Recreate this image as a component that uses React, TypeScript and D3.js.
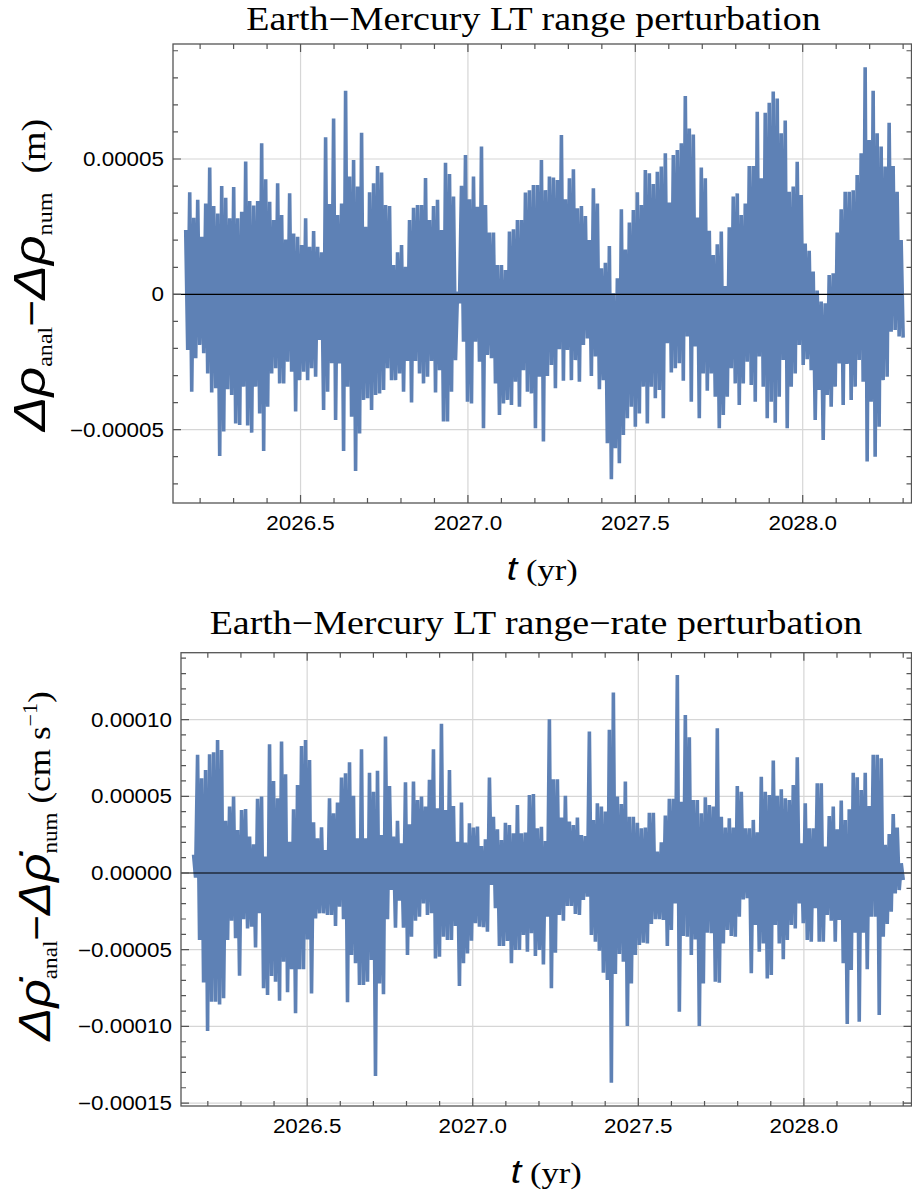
import React from "react";
import * as d3 from "d3";

// Sampling span of the residual series (years)
const T_FIRST = 2026.157;
const T_LAST = 2028.3;
const X_DOMAIN: [number, number] = [2026.119, 2028.325];

// Earth–Mercury LT range residual: successive positive / negative excursions (1e-5 m)
const rangeHigh = [
  2.38, 3.77, 2.83, 3.49, 2.13, 3.36, 4.69, 3.26, 2.99, 4.0,
  3.57, 2.81, 3.97, 2.81, 3.05, 4.91, 3.45, 3.28, 3.45, 5.58,
  4.25, 3.42, 2.75, 4.1, 2.93, 2.03, 3.73, 2.25, 2.13, 1.82,
  2.81, 1.76, 2.34, 1.76, 1.55, 5.8, 3.34, 6.5, 2.93, 3.36,
  7.52, 4.35, 4.96, 3.98, 5.97, 2.5, 3.77, 4.1, 4.74, 4.5,
  3.3, 3.26, 1.08, 1.55, 1.82, 1.02, 2.75, 3.2, 3.3, 3.3,
  4.3, 2.75, 3.26, 3.49, 2.38, 4.86, 4.45, 3.61, 0.1, 4.01,
  5.15, 3.51, 4.35, 3.24, 5.46, 3.3, 2.28, 2.28, 1.08, 1.08,
  0.9, 2.32, 2.4, 2.75, 2.75, 3.76, 3.85, 4.04, 4.04,
  4.96, 3.85, 4.35, 4.32, 4.22, 5.89, 3.51, 4.29, 4.62, 3.18,
  3.26, 2.89, 2.01, 3.92, 3.36, 0.96, 1.17, 1.79, 0.04, 0.59,
  3.14, 1.66, 2.65, 3.12, 3.77, 3.3, 4.59, 4.47, 4.08, 4.53,
  4.72, 5.21, 3.39, 5.15, 5.33, 5.58, 7.33, 6.13, 5.91, 2.84,
  4.69, 4.29, 2.35, 1.45, 1.85, 2.32, 0.31, 2.48, 3.61, 3.73,
  2.93, 3.36, 4.74, 4.74, 6.75, 4.29, 6.71, 7.08, 7.49, 7.24,
  5.95, 6.42, 3.79, 3.98, 4.9, 3.67, 1.88, 1.61, 0.84, 0.14,
  -0.27, -0.33, 0.71, 0.78, 2.28, 3.14, 3.79, 3.79, 3.85, 4.41,
  5.21, 8.39, 5.7, 7.52, 5.95, 5.46, 4.72, 6.34, 4.74, 3.79,
  2.01,
];
const rangeLow = [
  -2.06, -3.6, -2.36, -1.87, -2.18, -2.92, -3.63, -3.47, -5.97, -5.07,
  -3.51, -3.72, -4.77, -4.83, -3.41, -4.85, -5.11, -3.41, -4.4, -5.79,
  -4.15, -2.92, -2.73, -3.29, -3.29, -2.49, -2.86, -4.33, -3.17, -2.86,
  -3.17, -2.73, -3.04, -1.69, -4.27, -3.6, -2.55, -4.64, -2.55, -5.79,
  -3.41, -4.52, -6.53, -5.14, -3.9, -3.84, -4.27, -3.72, -3.66, -3.53,
  -2.73, -3.17, -3.17, -2.92, -3.6, -2.46, -4.0, -2.46, -2.92, -3.29,
  -3.04, -2.46, -3.63, -2.8, -4.7, -4.7, -3.6, -2.43, -0.33, -1.75,
  -3.97, -4.03, -1.75, -2.49, -4.95, -2.24, -2.36, -3.29, -4.46, -4.03,
  -3.9, -4.09, -3.23, -4.15, -2.8, -3.6, -3.66, -4.95, -3.04,
  -5.44, -3.02, -2.61, -3.47, -2.03, -3.19, -2.06, -3.17, -2.43, -3.23,
  -1.87, -1.63, -3.02, -2.3, -3.51, -3.17, -5.5, -6.83, -5.69, -6.24,
  -5.2, -4.58, -4.15, -4.89, -4.4, -3.41, -4.77, -3.41, -3.84, -3.53,
  -4.58, -1.81, -2.89, -2.73, -2.55, -3.19, -1.56, -3.97, -1.93, -4.58,
  -2.92, -3.56, -2.92, -3.78, -4.95, -4.46, -3.78, -2.73, -3.29, -4.09,
  -3.29, -2.49, -3.35, -3.97, -2.3, -3.41, -4.58, -3.97, -4.74, -3.78,
  -2.43, -4.95, -3.41, -2.92, -1.87, -2.61, -2.4, -2.8, -4.64, -3.53,
  -5.38, -3.72, -4.15, -3.41, -2.55, -4.09, -2.57, -3.9, -3.41, -2.43,
  -3.23, -6.18, -3.97, -6.0, -4.89, -3.17, -3.04, -1.38, -1.32, -1.56,
  -1.6,
];

// Earth–Mercury LT range-rate residual: successive positive / negative excursions (1e-5 cm/s)
const rateHigh = [
  1.2, 7.7, 6.17, 6.72, 7.74, 7.87, 8.67, 8.02, 3.41, 4.33,
  4.98, 2.8, 4.11, 4.17, 2.37, 1.87, 4.83, 4.98, 1.07, 8.39,
  6.0, 4.87, 8.57, 6.43, 2.04, 4.15, 5.74, 8.28, 8.67, 7.37,
  3.3, 2.26, 2.98, 1.5, 4.87, 3.89, 4.59, 6.22, 6.5, 7.22,
  5.04, 2.26, 8.07, 2.26, 6.54, 5.3, 6.67, 2.48, 8.89, 5.67,
  2.37, 3.41, 1.93, 5.91, 3.17, 5.96, 4.76, 4.98, 4.33, 6.07,
  8.07, 4.22, 9.72, 4.11, 6.72, 4.37, 2.04, 4.59, 1.98, 3.24,
  2.96, 3.02, 1.76, 2.2, 6.22, 3.67, 2.85, 2.15, 3.28, 3.13,
  2.59, 4.43, 2.59, 2.63, 5.09, 5.15, 2.91,
  3.02, 2.09, 10.02, 6.11, 6.11, 3.61, 5.04, 3.35, 3.13, 3.61,
  2.48, 2.41, 9.22, 3.46, 4.54, 4.33, 4.0, 9.33, 11.76, 4.98,
  4.5, 5.96, 3.67, 3.67, 3.28, 2.91, 2.96, 3.93, 3.93, 1.39,
  2.0, 3.74, 4.83, 4.83, 12.91, 4.65, 10.3, 8.85, 4.76, 4.76,
  3.89, 4.93, 4.43, 4.33, 9.43, 3.67, 2.96, 3.57, 2.96, 5.67,
  5.3, 2.91, 2.91, 3.46, 2.65, 6.28, 5.3, 5.09, 7.33, 5.04,
  5.46, 4.87, 4.76, 5.74, 7.54, 1.93, 4.54, 2.91, 2.91, 5.85,
  5.85, 1.72, 3.72, 4.33, 2.85, 4.72, 3.46, 4.15, 6.54, 6.24,
  5.41, 6.54, 4.37, 7.7, 7.7, 7.48, 1.83, 2.54, 3.85, 2.96,
  0.63,
];
const rateLow = [
  -0.3, -4.37, -7.13, -10.3, -8.39, -8.39, -8.57, -8.17, -4.37, -3.11,
  -4.26, -6.7, -3.02, -3.61, -3.5, -4.85, -2.63, -7.52, -7.96, -6.72,
  -7.09, -8.33, -5.78, -7.78, -6.28, -9.15, -6.28, -6.28, -4.33, -7.85,
  -2.96, -2.63, -2.63, -2.74, -2.74, -3.46, -2.2, -3.02, -8.43, -5.35,
  -5.89, -7.3, -7.3, -7.09, -5.67, -13.24, -7.2, -7.91, -3.02, -1.11,
  -3.57, -1.8, -3.57, -5.35, -4.15, -3.11, -2.85, -1.98, -2.74, -2.63,
  -5.57, -5.46, -4.15, -4.37, -4.37, -3.46, -7.37, -5.89, -5.24, -4.41,
  -3.28, -3.5, -3.54, -3.83, -0.78, -2.3, -4.76, -4.76, -4.43, -5.89,
  -5.02, -5.02, -4.04, -5.13, -3.93, -5.41, -5.02,
  -5.96, -2.85, -7.52, -5.2, -2.74, -3.11, -2.15, -2.15, -2.67, -2.74,
  -1.76, -1.54, -4.04, -4.48, -5.07, -6.5, -6.98, -13.67, -6.59, -5.28,
  -5.78, -9.98, -7.2, -5.35, -4.7, -4.54, -4.59, -3.33, -3.02, -3.02,
  -3.07, -4.76, -3.72, -1.98, -9.04, -4.11, -4.15, -5.35, -4.33, -9.98,
  -7.2, -3.89, -3.93, -7.09, -7.15, -4.59, -3.72, -4.11, -4.15, -2.85,
  -1.72, -1.65, -6.54, -3.39, -5.13, -4.59, -6.87, -6.65, -3.39, -4.59,
  -5.63, -4.37, -3.39, -3.61, -1.98, -3.28, -4.37, -4.48, -2.3, -4.48,
  -4.48, -2.74, -3.11, -4.48, -3.07, -5.89, -9.85, -6.33, -3.89, -9.7,
  -3.89, -6.28, -2.85, -2.85, -9.26, -4.15, -3.33, -2.52, -1.33, -1.11,
  -0.46,
];

// Axis ticks and labels
const xMajor = [2026.5, 2027.0, 2027.5, 2028.0];
const xMajorLabels = ["2026.5", "2027.0", "2027.5", "2028.0"];
const xMinor = [
  2026.2, 2026.3, 2026.4, 2026.6, 2026.7, 2026.8, 2026.9, 2027.1, 2027.2,
  2027.3, 2027.4, 2027.6, 2027.7, 2027.8, 2027.9, 2028.1, 2028.2, 2028.3,
];
const rangeYMajor = [-5e-5, 0, 5e-5];
const rangeYLabels = ["\u22120.00005", "0", "0.00005"];
const rangeYMinor = [-7, -6, -4, -3, -2, -1, 1, 2, 3, 4, 6, 7, 8, 9].map((v) => v * 1e-5);
const rateYMajor = [-15e-5, -10e-5, -5e-5, 0, 5e-5, 10e-5];
const rateYLabels = ["\u22120.00015", "\u22120.00010", "\u22120.00005", "0.00000", "0.00005", "0.00010"];
const rateYMinor = [
  -14, -13, -12, -11, -9, -8, -7, -6, -4, -3, -2, -1, 1, 2, 3, 4, 6, 7, 8, 9, 11, 12, 13, 14,
].map((v) => v * 1e-5);

const LINE = "#5E81B5";
const FRAME = "#555555";
const GRID = "#d6d6d6";
const SANS = "'Liberation Sans', Arial, sans-serif";
const SERIF = "'Liberation Serif', 'Times New Roman', serif";
const WIDE = 1.15;

type Pt = [number, number];

// Interleave positive and negative excursions along evenly spaced epochs
function buildSeries(high: number[], low: number[], unit: number): Pt[] {
  const n = high.length * 2;
  const step = (T_LAST - T_FIRST) / (n - 1);
  const pts: Pt[] = [];
  high.forEach((h, i) => {
    pts.push([T_FIRST + 2 * i * step, h * unit]);
    pts.push([T_FIRST + (2 * i + 1) * step, low[i] * unit]);
  });
  return pts;
}

function WideText(props: {
  x: number;
  y: number;
  anchor?: string;
  size: number;
  family: string;
  italic?: boolean;
  sx?: number;
  children: React.ReactNode;
}) {
  return (
    <text
      transform={`translate(${props.x},${props.y}) scale(${props.sx ?? WIDE},1)`}
      textAnchor={props.anchor || "middle"}
      fontSize={props.size}
      fontFamily={props.family}
      fontStyle={props.italic ? "italic" : "normal"}
      fill="#000"
    >
      {props.children}
    </text>
  );
}

type PanelProps = {
  id: string;
  box: { left: number; right: number; top: number; bottom: number };
  yDomain: [number, number];
  yMajor: number[];
  yLabels: string[];
  yMinor: number[];
  series: Pt[];
  title: string;
  titleX: number;
  titleY: number;
  xTitleY: number;
  yTitle: React.ReactNode;
};

function Panel(p: PanelProps) {
  const { left, right, top, bottom } = p.box;
  const x = d3.scaleLinear().domain(X_DOMAIN).range([left, right]);
  const y = d3.scaleLinear().domain(p.yDomain).range([bottom, top]);
  const line = d3
    .line<Pt>()
    .x((d) => x(d[0]))
    .y((d) => y(d[1]));
  const MAJ = 8;
  const MIN = 5;
  const tickSegs: string[] = [];
  xMajor.forEach((t) => {
    const xx = x(t);
    tickSegs.push(`M${xx},${bottom}V${bottom - MAJ}M${xx},${top}V${top + MAJ}`);
  });
  xMinor.forEach((t) => {
    const xx = x(t);
    tickSegs.push(`M${xx},${bottom}V${bottom - MIN}M${xx},${top}V${top + MIN}`);
  });
  p.yMajor.forEach((v) => {
    const yy = y(v);
    tickSegs.push(`M${left},${yy}H${left + MAJ}M${right},${yy}H${right - MAJ}`);
  });
  p.yMinor.forEach((v) => {
    const yy = y(v);
    tickSegs.push(`M${left},${yy}H${left + MIN}M${right},${yy}H${right - MIN}`);
  });

  return (
    <g>
      <defs>
        <clipPath id={`clip-${p.id}`}>
          <rect x={left} y={top} width={right - left} height={bottom - top} />
        </clipPath>
      </defs>
      {xMajor.map((t) => (
        <line key={`gx${t}`} x1={x(t)} x2={x(t)} y1={top} y2={bottom} stroke={GRID} strokeWidth={1.2} />
      ))}
      {p.yMajor
        .filter((v) => v !== 0)
        .map((v) => (
          <line key={`gy${v}`} x1={left} x2={right} y1={y(v)} y2={y(v)} stroke={GRID} strokeWidth={1.2} />
        ))}
      <path
        d={line(p.series) || ""}
        fill="none"
        stroke={LINE}
        strokeWidth={3.6}
        strokeLinejoin="bevel"
        clipPath={`url(#clip-${p.id})`}
      />
      <line x1={left} x2={right} y1={y(0)} y2={y(0)} stroke="#000" strokeWidth={1.2} />
      <rect x={left} y={top} width={right - left} height={bottom - top} fill="none" stroke={FRAME} strokeWidth={1.3} />
      <path d={tickSegs.join("")} stroke={FRAME} strokeWidth={1.2} fill="none" />
      {p.yMajor.map((v, i) => (
        <WideText key={`yl${v}`} x={left - 9} y={y(v) + 7} anchor="end" size={19.5} family={SANS}>
          {p.yLabels[i]}
        </WideText>
      ))}
      {xMajor.map((t, i) => (
        <WideText key={`xl${t}`} x={x(t)} y={bottom + 27} size={19.5} family={SANS}>
          {xMajorLabels[i]}
        </WideText>
      ))}
      <WideText x={p.titleX} y={p.titleY} size={33} sx={1.15} family={SERIF}>
        {p.title}
      </WideText>
      <text
        transform={`translate(${(left + right) / 2},${p.xTitleY}) scale(${WIDE},1)`}
        textAnchor="middle"
        fill="#000"
      >
        <tspan fontFamily={SANS} fontStyle="italic" fontSize={33}>
          t
        </tspan>
        <tspan fontFamily={SERIF} fontSize={30}>
          {"\u00a0(yr)"}
        </tspan>
      </text>
      {p.yTitle}
    </g>
  );
}

function RangeYTitle() {
  return (
    <text transform={`translate(45,275) rotate(-90) scale(${WIDE},1)`} textAnchor="middle" fill="#000">
      <tspan fontFamily={SANS} fontStyle="italic" fontSize={45}>
        {"\u0394\u03c1"}
      </tspan>
      <tspan fontFamily={SERIF} fontSize={21} dy={7}>
        anal
      </tspan>
      <tspan fontFamily={SANS} fontSize={40} dy={-7}>
        {"\u2212"}
      </tspan>
      <tspan fontFamily={SANS} fontStyle="italic" fontSize={45}>
        {"\u0394\u03c1"}
      </tspan>
      <tspan fontFamily={SERIF} fontSize={21} dy={7}>
        num
      </tspan>
      <tspan fontFamily={SERIF} fontSize={33} dy={-7}>
        {"\u00a0\u00a0(m)"}
      </tspan>
    </text>
  );
}

function RateYTitle() {
  return (
    <text transform={`translate(50,866) rotate(-90) scale(1.1,1)`} textAnchor="middle" fill="#000">
      <tspan fontFamily={SANS} fontStyle="italic" fontSize={45}>
        {"\u0394\u03c1\u0307"}
      </tspan>
      <tspan fontFamily={SERIF} fontSize={21} dy={7}>
        anal
      </tspan>
      <tspan fontFamily={SANS} fontSize={40} dy={-7}>
        {"\u2212"}
      </tspan>
      <tspan fontFamily={SANS} fontStyle="italic" fontSize={45}>
        {"\u0394\u03c1\u0307"}
      </tspan>
      <tspan fontFamily={SERIF} fontSize={21} dy={7}>
        num
      </tspan>
      <tspan fontFamily={SERIF} fontSize={32} dy={-7}>
        {"\u00a0(cm s"}
      </tspan>
      <tspan fontFamily={SERIF} fontSize={20} dy={-13}>
        {"\u22121"}
      </tspan>
      <tspan fontFamily={SERIF} fontSize={32} dy={13}>
        )
      </tspan>
    </text>
  );
}

export default function App() {
  const rangeSeries = buildSeries(rangeHigh, rangeLow, 1e-5);
  const rateSeries = buildSeries(rateHigh, rateLow, 1e-5);
  return (
    <svg
      width={912}
      height={1195}
      viewBox="0 0 912 1195"
      style={{ position: "absolute", left: 0, top: 0, background: "#fff" }}
    >
      <rect x={0} y={0} width={912} height={1195} fill="#fff" />
      <Panel
        id="range"
        box={{ left: 173, right: 911.5, top: 44, bottom: 503 }}
        yDomain={[-7.71e-5, 9.25e-5]}
        yMajor={rangeYMajor}
        yLabels={rangeYLabels}
        yMinor={rangeYMinor}
        series={rangeSeries}
        title={"Earth\u2212Mercury LT range perturbation"}
        titleX={533.5}
        titleY={30}
        xTitleY={580}
        yTitle={<RangeYTitle />}
      />
      <Panel
        id="rate"
        box={{ left: 181, right: 911.5, top: 652.7, bottom: 1106 }}
        yDomain={[-15.19e-5, 14.36e-5]}
        yMajor={rateYMajor}
        yLabels={rateYLabels}
        yMinor={rateYMinor}
        series={rateSeries}
        title={"Earth\u2212Mercury LT range\u2212rate perturbation"}
        titleX={536}
        titleY={634}
        xTitleY={1183}
        yTitle={<RateYTitle />}
      />
    </svg>
  );
}
